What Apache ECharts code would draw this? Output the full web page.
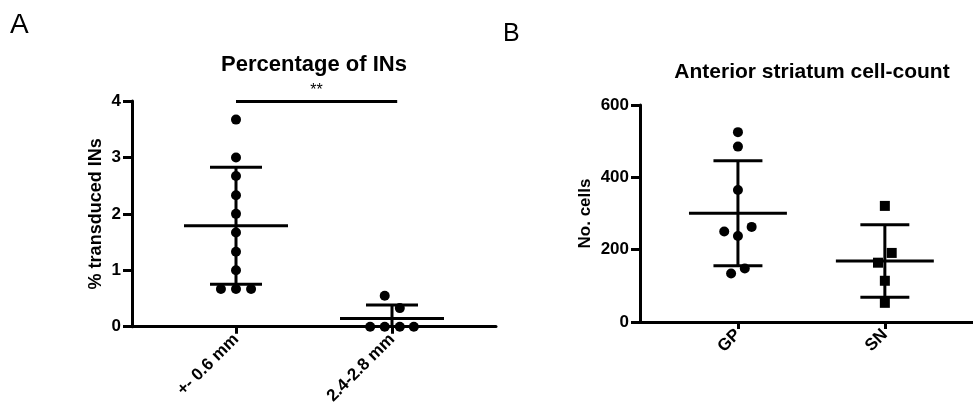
<!DOCTYPE html>
<html>
<head>
<meta charset="utf-8">
<script src="https://cdn.jsdelivr.net/npm/echarts@6.0.0/dist/echarts.min.js"></script>
<style>
  html, body { margin: 0; padding: 0; background: #fff; }
  #chart { width: 973px; height: 407px; }
</style>
</head>
<body>
<div id="chart"></div>
<script>
// Panel A - percentage of transduced INs
var groupsA = ['+- 0.6 mm', '2.4-2.8 mm'];
var groupPosA = [1, 2.5];
var pctNear = [3.67, 3.0, 2.67, 2.33, 2.0, 1.67, 1.33, 1.0, 0.67, 0.67, 0.67];
var pctNearDx = [0, 0, 0, 0, 0, 0, 0, 0, -0.145, 0, 0.145];
var pctFar = [0.55, 0.33, 0, 0, 0, 0];
var pctFarDx = [-0.07, 0.075, -0.21, -0.07, 0.075, 0.21];
var ticksA = [0, 1, 2, 3, 4];
var sigBar = [1, 2.55];

// Panel B - anterior striatum cell-count
var groupsB = ['GP', 'SN'];
var groupPosB = [1, 2.5];
var cellsGP = [525, 485, 365, 250, 263, 238, 134, 148];
var cellsGPDx = [0, 0, 0, -0.14, 0.14, 0, -0.07, 0.07];
var cellsSN = [321, 191, 164, 114, 53];
var cellsSNDx = [0, 0.07, -0.07, 0, 0];
var ticksB = [0, 200, 400, 600];

var FONT = '"Liberation Sans", Arial, sans-serif';

function mean(a) {
  var s = 0;
  for (var i = 0; i < a.length; i++) s += a[i];
  return s / a.length;
}
function sd(a) {
  var m = mean(a), s = 0;
  for (var i = 0; i < a.length; i++) s += (a[i] - m) * (a[i] - m);
  return Math.sqrt(s / (a.length - 1));
}
function points(pos, vals, dx) {
  return vals.map(function (v, i) { return [pos + dx[i], v]; });
}

// mean line + SD whiskers with caps
function renderBar(params, api) {
  var x = api.value(0), m = api.value(1), s = api.value(2);
  function seg(x1, y1, x2, y2) {
    var a = api.coord([x1, y1]), b = api.coord([x2, y2]);
    return {
      type: 'line',
      shape: { x1: a[0], y1: a[1], x2: b[0], y2: b[1] },
      style: { stroke: '#000', lineWidth: 3 }
    };
  }
  return {
    type: 'group',
    children: [
      seg(x, m - s, x, m + s),
      seg(x - 0.5, m, x + 0.5, m),
      seg(x - 0.25, m + s, x + 0.25, m + s),
      seg(x - 0.25, m - s, x + 0.25, m - s)
    ]
  };
}

function valueX(grid, pos, names, max) {
  return {
    type: 'value', gridIndex: grid, min: 0, max: max,
    axisLine: { lineStyle: { color: '#000', width: 3 } },
    axisTick: { customValues: pos, length: 7, lineStyle: { color: '#000', width: 3 } },
    axisLabel: {
      customValues: pos, rotate: 45, margin: 10,
      fontSize: 17, fontWeight: 'bold', fontFamily: FONT, color: '#000',
      formatter: function (v) { return names[pos.indexOf(v)]; }
    },
    splitLine: { show: false }
  };
}

function valueY(grid, ticks, name, gap, nameSize) {
  return {
    type: 'value', gridIndex: grid,
    min: ticks[0], max: ticks[ticks.length - 1], interval: ticks[1] - ticks[0],
    name: name, nameLocation: 'middle', nameGap: gap,
    nameTextStyle: { fontSize: nameSize, fontWeight: 'bold', fontFamily: FONT, color: '#000' },
    axisLine: { show: true, lineStyle: { color: '#000', width: 3 } },
    axisTick: { show: true, length: 9, lineStyle: { color: '#000', width: 3 } },
    axisLabel: { margin: 11, fontSize: 17, fontWeight: 'bold', fontFamily: FONT, color: '#000' },
    splitLine: { show: false }
  };
}

var dot = { color: '#000', opacity: 1 };

var chart = echarts.init(document.getElementById('chart'));

chart.setOption({
  animation: false,
  backgroundColor: '#fff',
  grid: [
    { left: 132, top: 101, width: 364, height: 227 },
    { left: 640, top: 105, right: 0, height: 217 }
  ],
  xAxis: [
    valueX(0, groupPosA, groupsA, 3.5),
    valueX(1, groupPosB, groupsB, 3.4)
  ],
  yAxis: [
    valueY(0, ticksA, '% transduced INs', 27, 18),
    valueY(1, ticksB, 'No. cells', 46, 17)
  ],
  graphic: [
    { type: 'text', x: 10, y: 25, style: { text: 'A', font: '28px ' + FONT, fill: '#000', align: 'left', verticalAlign: 'middle' } },
    { type: 'text', x: 503, y: 34, style: { text: 'B', font: '25px ' + FONT, fill: '#000', align: 'left', verticalAlign: 'middle' } },
    { type: 'text', x: 314, y: 65, style: { text: 'Percentage of INs', font: 'bold 22px ' + FONT, fill: '#000', align: 'center', verticalAlign: 'middle' } },
    { type: 'text', x: 812, y: 72, style: { text: 'Anterior striatum cell-count', font: 'bold 21px ' + FONT, fill: '#000', align: 'center', verticalAlign: 'middle' } }
  ],
  series: [
    {
      type: 'scatter', xAxisIndex: 0, yAxisIndex: 0,
      data: points(groupPosA[0], pctNear, pctNearDx),
      symbol: 'circle', symbolSize: 10, itemStyle: dot,
      markLine: {
        silent: true, symbol: ['none', 'none'],
        lineStyle: { color: '#000', width: 3, type: 'solid' },
        label: { show: true, position: 'middle', formatter: '**', fontSize: 16, color: '#000', fontFamily: FONT, distance: 2 },
        data: [[{ coord: [sigBar[0], ticksA[4]] }, { coord: [sigBar[1], ticksA[4]] }]]
      }
    },
    {
      type: 'scatter', xAxisIndex: 0, yAxisIndex: 0,
      data: points(groupPosA[1], pctFar, pctFarDx),
      symbol: 'circle', symbolSize: 10, itemStyle: dot
    },
    {
      type: 'custom', xAxisIndex: 0, yAxisIndex: 0, clip: true,
      renderItem: renderBar,
      data: [
        [groupPosA[0], mean(pctNear), sd(pctNear)],
        [groupPosA[1], mean(pctFar), sd(pctFar)]
      ]
    },
    {
      type: 'scatter', xAxisIndex: 1, yAxisIndex: 1,
      data: points(groupPosB[0], cellsGP, cellsGPDx),
      symbol: 'circle', symbolSize: 10, itemStyle: dot
    },
    {
      type: 'scatter', xAxisIndex: 1, yAxisIndex: 1,
      data: points(groupPosB[1], cellsSN, cellsSNDx),
      symbol: 'rect', symbolSize: 10, itemStyle: dot
    },
    {
      type: 'custom', xAxisIndex: 1, yAxisIndex: 1, clip: true,
      renderItem: renderBar,
      data: [
        [groupPosB[0], mean(cellsGP), sd(cellsGP)],
        [groupPosB[1], mean(cellsSN), sd(cellsSN)]
      ]
    }
  ]
});
</script>
</body>
</html>
